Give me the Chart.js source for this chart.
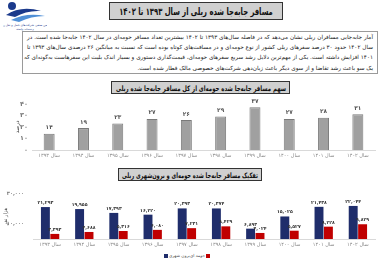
<!DOCTYPE html>
<html>
<head>
<meta charset="utf-8">
<script src="https://cdn.jsdelivr.net/npm/chart.js@4.4.1/dist/chart.umd.min.js"></script>
<style>
html, body { margin: 0; padding: 0; background: #fff; }
body { width: 380px; height: 263px; position: relative; overflow: hidden; font-family: "DejaVu Sans", sans-serif; }
.abs { position: absolute; }
.box { position: absolute; background: #d0d0d0; border: 1px solid #333; box-sizing: border-box; font-weight: bold; color: #111; overflow: hidden; }
.box span { position: absolute; left: 50%; top: 50%; direction: rtl; white-space: nowrap; transform-origin: center center; }
#para { left: 22px; top: 31px; width: 356px; height: 43px; border: 1px solid #9a9a9a; box-sizing: border-box; padding: 0 4px; direction: rtl; color: #222; font-size: 5.7px; overflow: hidden; }
#para div { height: 10.2px; line-height: 10.2px; white-space: nowrap; text-align: justify; text-align-last: justify; }
#para div.last { text-align-last: right; }
.lg { position: absolute; font-size: 4.2px; color: #444; direction: rtl; white-space: nowrap; line-height: 6px; }
.sw { position: absolute; width: 4px; height: 4px; }
</style>
</head>
<body>

<svg class="abs" style="left:3px;top:1px" width="44" height="30" viewBox="0 0 44 30">
  <circle cx="9" cy="5" r="4" fill="#1b3a8c"/>
  <path d="M3 14 Q18 4 38 10 Q24 9 12 16 Z" fill="#1b3a8c"/>
  <path d="M8 19 Q24 11 42 15 Q28 15 16 21 Z" fill="#4f8fd6"/>
  <text x="22" y="25" font-size="3" text-anchor="middle" fill="#1b3a8c" font-family="DejaVu Sans" direction="rtl">انجمن صنفی شرکت‌های حمل و نقل ریلی</text>
  <text x="22" y="29" font-size="2.6" text-anchor="middle" fill="#1b3a8c" font-family="DejaVu Sans" direction="rtl">و خدمات وابسته</text>
</svg>

<div class="box" data-fit="154" style="left:109px;top:2px;width:174px;height:18px;font-size:10px;"><span>مسافر جابه‌جا شده ریلی از سال ۱۳۹۳ تا ۱۴۰۲</span></div>

<div id="para" class="abs">
  <div>آمار جابه‌جایی مسافران ریلی نشان می‌دهد که در فاصله سال‌های ۱۳۹۳ تا ۱۴۰۲ بیشترین تعداد مسافر حومه‌ای در سال ۱۴۰۲ جابه‌جا شده است. در</div>
  <div>سال ۱۴۰۲ حدود ۳۰ درصد سفرهای ریلی کشور از نوع حومه‌ای و در مسافت‌های کوتاه بوده است که نسبت به میانگین ۲۶ درصدی سال‌های ۱۳۹۳ تا</div>
  <div>۱۴۰۱ افزایش داشته است. یکی از مهم‌ترین دلایل رشد سریع سفرهای حومه‌ای، قیمت‌گذاری دستوری و بسیار اندک بلیت این سفرهاست به‌گونه‌ای که از</div>
  <div class="last">یک سو باعث رشد تقاضا و از سوی دیگر باعث زیان‌دهی شرکت‌های خصوصی مالک قطار شده است.</div>
</div>

<div class="box" data-fit="170" style="left:111px;top:81px;width:179px;height:13px;font-size:7.5px;"><span>سهم مسافر جابه‌جا شده حومه‌ای از کل مسافر جابه‌جا شده ریلی</span></div>
<canvas id="c1" class="abs" style="left:0;top:96px" width="380" height="68"></canvas>

<div class="box" data-fit="136" style="left:118px;top:168px;width:144px;height:13px;font-size:7.5px;"><span>تفکیک مسافر جابه‌جا شده حومه‌ای و برون‌شهری ریلی</span></div>
<canvas id="c2" class="abs" style="left:0;top:182px" width="380" height="70"></canvas>

<div class="sw" style="left:164px;top:254px;background:#1f2d6b"></div>
<div class="lg" style="left:169px;top:253px">برون شهری</div>
<div class="lg" style="right:175px;top:253px">حومه ای</div>
<div class="sw" style="left:206px;top:254px;background:#c00000"></div>

<script>
// data
const years = [1393, 1394, 1395, 1396, 1397, 1398, 1399, 1400, 1401, 1402];
const suburbanShare = [14, 19, 23, 27, 26, 29, 37, 27, 28, 31];
const intercity = [21293, 19955, 17393, 16220, 20393, 20374, 6893, 15025, 21438, 22044];
const suburban = [3393, 4688, 5316, 6080, 7231, 8429, 4024, 5527, 8228, 9829];
const shareTicks = [0, 10, 20, 30, 40];
const countTicks = [10000, 30000];

const faDigits = '۰۱۲۳۴۵۶۷۸۹';
function fa(n, sep) {
  let s = sep ? Number(n).toLocaleString('en-US') : String(n);
  return s.replace(/[0-9]/g, d => faDigits[d]);
}
const yearLabels = years.map(y => 'سال ' + fa(y));

// squeeze the heading texts to the width they take in the picture
document.querySelectorAll('.box[data-fit]').forEach(box => {
  const span = box.querySelector('span');
  const k = Number(box.dataset.fit) / span.offsetWidth;
  span.style.transform = 'translate(-50%,-50%) scaleX(' + k + ')';
});

const FONT = '"DejaVu Sans", sans-serif';

const barLabels = {
  id: 'barLabels',
  afterDatasetsDraw(chart, args, opts) {
    const ctx = chart.ctx;
    ctx.save();
    ctx.font = opts.font;
    ctx.fillStyle = opts.color;
    ctx.textAlign = 'center';
    ctx.textBaseline = 'bottom';
    chart.data.datasets.forEach((ds, i) => {
      chart.getDatasetMeta(i).data.forEach((bar, j) => {
        ctx.fillText(fa(ds.data[j], opts.sep), bar.x, bar.y - opts.offset);
      });
    });
    ctx.restore();
  }
};

new Chart(document.getElementById('c1'), {
  type: 'bar',
  data: {
    labels: yearLabels,
    datasets: [{
      data: suburbanShare,
      backgroundColor: '#a0a0a0',
      borderColor: '#7a7a7a',
      borderWidth: 1,
      barPercentage: 0.32,
      categoryPercentage: 1
    }]
  },
  options: {
    responsive: false,
    animation: false,
    layout: { padding: { top: 5, right: 5, bottom: 2, left: 0 } },
    plugins: {
      legend: { display: false },
      tooltip: { enabled: false },
      barLabels: { font: 'bold 5.8px ' + FONT, color: '#555', offset: 3, sep: false }
    },
    scales: {
      x: {
        grid: { display: false, drawTicks: false },
        border: { display: true, color: '#d9d9d9' },
        ticks: { font: { family: FONT, size: 5 }, color: '#888', maxRotation: 0, autoSkip: false, padding: 3 },
        afterFit(s) { s.height = 12; }
      },
      y: {
        min: 0, max: 40,
        grid: { display: false, drawTicks: false },
        border: { display: false },
        afterBuildTicks(s) { s.ticks = shareTicks.map(v => ({ value: v })); },
        ticks: { font: { family: FONT, size: 6.5, weight: 'bold' }, color: '#777', padding: 4, autoSkip: false, callback: v => fa(v) },
        title: { display: true, text: 'درصد', font: { family: FONT, size: 5.5 }, color: '#444', padding: { top: 14, bottom: 0 } },
        afterFit(s) { s.width = 32; }
      }
    }
  },
  plugins: [barLabels]
});

new Chart(document.getElementById('c2'), {
  type: 'bar',
  data: {
    labels: yearLabels,
    datasets: [
      { label: 'برون شهری', data: intercity, backgroundColor: '#1f2d6b', barPercentage: 0.95, categoryPercentage: 0.55 },
      { label: 'حومه ای', data: suburban, backgroundColor: '#c00000', barPercentage: 0.95, categoryPercentage: 0.55 }
    ]
  },
  options: {
    responsive: false,
    animation: false,
    layout: { padding: { top: 5.5, right: 5, bottom: 1, left: 0 } },
    plugins: {
      legend: { display: false },
      tooltip: { enabled: false },
      barLabels: { font: 'bold 4.6px ' + FONT, color: '#333', offset: 2, sep: true }
    },
    scales: {
      x: {
        grid: { display: false, drawTicks: false },
        border: { display: true, color: '#d9d9d9' },
        ticks: { font: { family: FONT, size: 5 }, color: '#888', maxRotation: 0, autoSkip: false, padding: 3 },
        afterFit(s) { s.height = 12; }
      },
      y: {
        min: 0, max: 30000,
        grid: { display: false, drawTicks: false },
        border: { display: false },
        afterBuildTicks(s) { s.ticks = countTicks.map(v => ({ value: v })); },
        ticks: { font: { family: FONT, size: 5, weight: 'bold' }, color: '#777', padding: 9, autoSkip: false, callback: v => fa(v, true) },
        title: { display: true, text: 'هزار نفر', font: { family: FONT, size: 5 }, color: '#444', padding: { top: 3, bottom: 0 } },
        afterFit(s) { s.width = 33; }
      }
    }
  },
  plugins: [barLabels]
});
</script>
</body>
</html>
